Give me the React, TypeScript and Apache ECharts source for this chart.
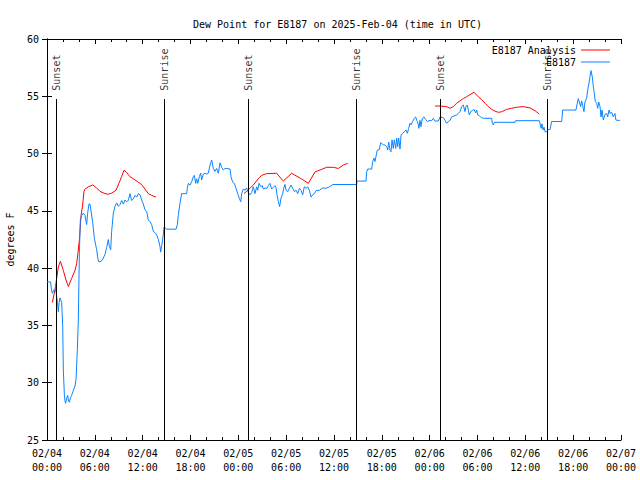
import React, { useEffect, useRef } from "react";
import * as echarts from "echarts";

const FONT = "DejaVu Sans Mono";

// hours since 2025-02-04 00:00 UTC
const obsHours = [
  0.0, 0.17, 0.45, 0.55, 0.67, 0.8, 0.88, 1.0, 1.09, 1.21, 1.32, 1.42, 1.52, 1.63, 1.74, 1.84, 1.97, 2.05, 2.18, 2.26,
  2.34, 2.45, 2.59, 2.7, 2.8, 2.95, 3.09, 3.3, 3.51, 3.64, 3.81, 3.93, 4.06, 4.18, 4.35, 4.56, 4.77, 4.97, 5.1, 5.27,
  5.39, 5.52, 5.73, 5.94, 6.23, 6.44, 6.65, 6.94, 7.28, 7.48, 7.69, 7.82, 7.99, 8.11, 8.32, 8.53, 8.74, 8.95, 9.16, 9.37,
  9.58, 9.78, 9.99, 10.2, 10.41, 10.62, 10.83, 11.04, 11.25, 11.45, 11.67, 11.87, 12.08, 12.29, 12.5, 12.71, 12.92, 13.13, 13.34, 13.55,
  13.76, 13.97, 14.17, 14.26, 14.39, 14.59, 14.68, 15.01, 16.18, 16.35, 16.47, 16.68, 16.89, 17.52, 17.6, 17.73, 17.94, 18.15, 18.35, 18.48,
  18.65, 18.78, 18.9, 19.11, 19.28, 19.4, 19.61, 19.82, 20.03, 20.24, 20.45, 20.66, 20.86, 21.07, 21.28, 21.49, 21.7, 21.91, 22.12, 22.33,
  22.54, 22.96, 23.08, 23.29, 23.5, 23.71, 23.92, 24.12, 24.3, 24.42, 24.62, 24.84, 25.04, 25.25, 25.46, 25.67, 25.88, 26.09, 26.3, 26.43,
  26.59, 26.84, 27.01, 27.13, 27.35, 27.56, 27.76, 27.97, 28.18, 28.39, 28.6, 28.73, 28.85, 29.02, 29.18, 29.35, 29.56, 29.69, 29.85, 29.98,
  30.19, 30.4, 30.61, 30.82, 31.03, 31.24, 31.45, 31.66, 31.87, 32.07, 32.28, 32.49, 32.7, 32.91, 33.12, 33.33, 33.54, 33.75, 34.16, 34.58,
  35.0, 35.42, 35.84, 38.85, 38.86, 40.02, 40.1, 40.23, 40.73, 40.85, 41.02, 41.14, 41.27, 41.43, 41.68, 41.86, 41.98, 42.19, 42.4, 42.61,
  42.74, 42.86, 43.03, 43.15, 43.28, 43.44, 43.57, 43.74, 43.86, 43.99, 44.11, 44.28, 44.41, 44.61, 44.82, 45.03, 45.2, 45.37, 45.53, 45.66,
  45.87, 46.07, 46.25, 46.37, 46.49, 46.66, 46.79, 46.91, 47.08, 47.29, 47.5, 47.71, 48.04, 48.26, 48.46, 48.67, 49.09, 49.3, 49.71, 49.92,
  50.13, 50.34, 50.55, 50.76, 51.39, 51.59, 51.8, 52.01, 52.22, 52.43, 52.55, 52.72, 52.85, 52.97, 53.15, 53.36, 53.56, 53.77, 53.9, 54.02,
  54.23, 54.4, 54.53, 54.73, 55.78, 55.86, 55.98, 56.11, 58.7, 58.77, 61.75, 61.84, 61.97, 62.09, 62.22, 62.34, 62.47, 62.68, 62.88, 63.1,
  63.3, 64.56, 64.68, 66.35, 66.52, 66.64, 66.77, 66.94, 67.06, 67.19, 67.35, 67.48, 67.69, 67.82, 67.98, 68.11, 68.24, 68.4, 68.53, 68.65,
  68.78, 68.95, 69.08, 69.2, 69.37, 69.49, 69.62, 69.78, 69.99, 70.21, 70.33, 70.5, 70.62, 70.83, 71.03, 71.24, 71.36, 71.53, 71.87,
];
const obsValues = [
  38.8, 38.8, 38.8, 38.2, 37.8, 38.0, 38.1, 37.9, 38.5, 37.5, 37.0, 36.2, 37.0, 37.4, 37.2, 37.0, 34.9, 31.1, 28.9, 28.4,
  28.2, 28.6, 28.9, 28.4, 28.3, 28.7, 28.9, 29.3, 29.7, 30.3, 32.9, 35.5, 41.3, 44.2, 44.6, 44.8, 44.6, 43.8, 44.8, 45.6,
  45.6, 45.0, 44.0, 42.6, 41.6, 40.6, 40.55, 40.7, 41.2, 41.8, 42.5, 41.9, 41.6, 43.2, 44.8, 45.4, 45.7, 45.4, 45.55, 45.9,
  45.6, 45.95, 45.8, 45.9, 46.5, 45.9, 46.05, 46.35, 46.2, 46.5, 46.4, 45.95, 45.6, 45.1, 44.95, 44.2, 44.05, 43.8, 43.2, 43.1,
  42.9, 42.5, 41.9, 41.4, 42.0, 42.9, 43.6, 43.4, 43.4, 43.8, 44.6, 45.66, 46.5, 46.5, 46.97, 47.4, 47.25, 47.55, 47.98, 48.1,
  47.4, 47.8, 47.4, 47.98, 48.3, 47.7, 48.2, 48.3, 48.2, 48.3, 49.0, 49.44, 48.7, 48.45, 48.7, 48.28, 49.2, 48.8, 48.57, 48.7,
  48.7, 48.65, 47.98, 47.5, 47.4, 46.97, 46.5, 46.1, 45.8, 46.5, 46.9, 46.8, 47.0, 46.6, 46.4, 46.6, 47.1, 46.5, 47.1, 46.8,
  47.4, 47.1, 47.2, 46.9, 47.0, 46.95, 47.2, 47.4, 46.9, 47.05, 47.2, 47.05, 46.4, 45.8, 45.37, 46.1, 46.5, 46.97, 47.3, 46.8,
  46.67, 46.97, 47.25, 46.97, 46.67, 46.8, 46.5, 46.97, 46.8, 46.4, 47.1, 46.97, 47.1, 46.8, 46.2, 46.4, 46.5, 46.77, 46.8, 47.0,
  46.97, 47.1, 47.3, 47.3, 47.6, 47.6, 48.4, 48.65, 48.65, 49.3, 49.6, 49.3, 49.75, 50.3, 50.35, 50.95, 50.9, 50.75, 50.75, 50.6,
  50.3, 51.0, 50.3, 50.16, 51.2, 50.45, 51.2, 50.45, 51.35, 50.6, 51.35, 50.4, 51.6, 51.77, 51.9, 52.06, 51.77, 52.2, 52.64, 52.5,
  52.8, 53.08, 53.2, 52.9, 52.77, 52.2, 52.9, 52.35, 53.08, 53.2, 52.98, 52.8, 52.9, 52.87, 53.08, 52.84, 52.84, 53.2, 53.13, 52.9,
  52.64, 52.8, 52.9, 53.2, 53.37, 53.5, 53.66, 54.1, 54.24, 53.66, 54.1, 54.24, 53.8, 53.37, 53.66, 53.75, 53.86, 53.55, 53.8, 53.37,
  53.3, 53.2, 53.13, 53.08, 53.08, 52.64, 52.5, 52.73, 52.73, 52.87, 52.87, 52.64, 52.2, 52.6, 52.06, 52.3, 51.9, 51.9, 52.1, 52.1,
  52.8, 52.8, 53.8, 53.8, 54.4, 54.8, 54.5, 54.1, 54.6, 54.2, 53.66, 54.5, 54.83, 55.55, 56.13, 56.7, 57.24, 56.7, 55.84, 55.26,
  54.53, 54.4, 53.95, 54.5, 54.1, 53.2, 53.8, 52.93, 53.4, 53.5, 53.2, 53.8, 53.5, 53.6, 53.2, 53.5, 52.93, 52.9, 52.9,
];

const anaHours = [
  0.67, 1.0, 1.21, 1.42, 1.68, 2.05, 2.38, 2.68, 3.09, 3.51, 3.72, 3.88, 4.08, 4.27, 4.47, 4.64, 4.77, 5.19, 5.73, 6.23,
  6.65, 7.28, 7.69, 8.11, 8.66, 9.08, 9.37, 9.66, 9.99, 10.41, 10.83, 11.45, 11.87, 12.29, 12.71, 13.13, 13.67, 19.0,
  24.71, 25.88, 26.5, 26.93, 27.56, 28.81, 29.64, 30.69, 31.95, 32.78, 33.62, 34.25, 35.08, 35.92, 36.54, 37.17, 37.72, 43.0,
  48.67, 49.3, 50.13, 50.55, 50.97, 51.39, 51.8, 52.22, 52.64, 53.06, 53.56, 54.1, 54.53, 54.94, 55.36, 55.78, 56.2, 56.61,
  57.03, 57.66, 58.28, 58.91, 59.75, 60.59, 61.22, 61.75,
];
const anaValues: (number | string)[] = [
  37.0, 38.1, 39.1, 40.1, 40.6, 39.8, 38.97, 38.4, 39.1, 39.8, 40.4, 41.3, 42.6, 44.6, 45.5, 46.7, 46.9, 47.1, 47.26, 47.0,
  46.7, 46.5, 46.45, 46.55, 46.8, 47.5, 48.0, 48.55, 48.35, 47.98, 47.8, 47.5, 47.3, 46.9, 46.5, 46.35, 46.2, "-",
  46.5, 47.25, 47.8, 48.1, 48.25, 48.28, 47.6, 48.28, 47.78, 47.4, 48.4, 48.57, 48.8, 48.8, 48.7, 49.0, 49.15, "-",
  54.15, 54.15, 54.1, 53.95, 54.1, 54.4, 54.6, 54.8, 54.96, 55.15, 55.35, 54.96, 54.7, 54.4, 54.1, 53.86, 53.7, 53.6,
  53.65, 53.86, 53.95, 54.04, 54.1, 53.98, 53.74, 53.45,
];

const eventHours = [1.21, 14.72, 25.26, 38.8, 49.35, 62.8];
const eventNames = ["Sunset", "Sunrise", "Sunset", "Sunrise", "Sunset", "Sunrise"];

const xMin = 0;
const xMax = 72;
const yMin = 25;
const yMax = 60;
const eventLineTop = 54.76;
const eventLabelBase = 55.4;

const fmtX = (v: number) => {
  const day = 4 + Math.floor(v / 24);
  const hh = Math.round(v % 24);
  return `02/0${day}\n${hh < 10 ? "0" + hh : hh}:00`;
};

export default function App() {
  const ref = useRef<HTMLDivElement>(null);
  useEffect(() => {
    document.body.style.margin = "0";
    const chart = echarts.init(ref.current!, null, { renderer: "svg" });
    const axisCommon = {
      axisLine: { show: true, lineStyle: { color: "#000", width: 1 } },
      splitLine: { show: false },
    };
    chart.setOption({
      animation: false,
      backgroundColor: "#fff",
      title: {
        text: "Dew Point for E8187 on 2025-Feb-04 (time in UTC)",
        left: 188,
        top: 14,
        textStyle: { fontFamily: FONT, fontSize: 10, fontWeight: "normal", color: "#000" },
      },
      legend: {
        data: ["E8187 Analysis", "E8187"],
        orient: "vertical",
        right: 30,
        top: 45,
        align: "right",
        icon: "rect",
        itemWidth: 29,
        itemHeight: 1,
        itemGap: 2,
        padding: 0,
        textStyle: { fontFamily: FONT, fontSize: 10, lineHeight: 10, color: "#000" },
      },
      grid: { left: 47, right: 19, top: 39, bottom: 40, outerBoundsMode: "none", containLabel: false },
      xAxis: [
        {
          type: "value",
          min: xMin,
          max: xMax,
          interval: 6,
          position: "bottom",
          ...axisCommon,
          axisTick: { show: true, inside: true, length: 5, lineStyle: { color: "#000" } },
          minorTick: { show: true, splitNumber: 3, length: 3, lineStyle: { color: "#000" } },
          minorSplitLine: { show: false },
          axisLabel: {
            formatter: fmtX,
            margin: 6,
            fontFamily: FONT,
            fontSize: 10,
            lineHeight: 14,
            color: "#000",
          },
        },
        {
          type: "value",
          min: xMin,
          max: xMax,
          interval: 6,
          position: "top",
          ...axisCommon,
          axisTick: { show: true, inside: true, length: 5, lineStyle: { color: "#000" } },
          minorTick: { show: true, splitNumber: 3, length: 3, lineStyle: { color: "#000" } },
          axisLabel: { show: false },
        },
      ],
      yAxis: [
        {
          type: "value",
          min: yMin,
          max: yMax,
          interval: 5,
          position: "left",
          name: "degrees F",
          nameLocation: "middle",
          nameGap: 32,
          nameTextStyle: { fontFamily: FONT, fontSize: 10, color: "#000" },
          ...axisCommon,
          axisTick: { show: true, inside: true, length: 5, lineStyle: { color: "#000" } },
          axisLabel: { margin: 8, fontFamily: FONT, fontSize: 10, color: "#000" },
        },
        {
          type: "value",
          min: yMin,
          max: yMax,
          interval: 5,
          position: "right",
          ...axisCommon,
          axisTick: { show: true, inside: true, length: 5, lineStyle: { color: "#000" } },
          axisLabel: { show: false },
        },
      ],
      series: [
        {
          name: "E8187 Analysis",
          type: "line",
          symbol: "none",
          connectNulls: false,
          color: "#ff0000",
          lineStyle: { color: "#ff0000", width: 1 },
          data: anaHours.map((h, i) => [h, anaValues[i]]),
          z: 3,
        },
        {
          name: "E8187",
          type: "line",
          symbol: "none",
          color: "#0a84ff",
          lineStyle: { color: "#0a84ff", width: 1 },
          data: obsHours.map((h, i) => [h, obsValues[i]]),
          z: 4,
          markLine: {
            silent: true,
            symbol: ["none", "none"],
            label: { show: false },
            lineStyle: { color: "#000", width: 1, type: "solid" },
            data: eventHours.map((h) => [{ coord: [h, yMin] }, { coord: [h, eventLineTop] }]),
          },
        },
        {
          name: "events",
          type: "scatter",
          symbolSize: 0,
          silent: true,
          data: eventHours.map((h, i) => [h, eventLabelBase, eventNames[i]]),
          label: {
            show: true,
            formatter: (p: any) => p.data[2],
            position: "top",
            distance: 0,
            rotate: 90,
            align: "left",
            verticalAlign: "middle",
            offset: [1, 0],
            fontFamily: FONT,
            fontSize: 10,
            color: "#000",
          },
          z: 5,
        },
      ],
    });
    return () => chart.dispose();
  }, []);
  return <div ref={ref} style={{ width: 640, height: 480 }} />;
}
